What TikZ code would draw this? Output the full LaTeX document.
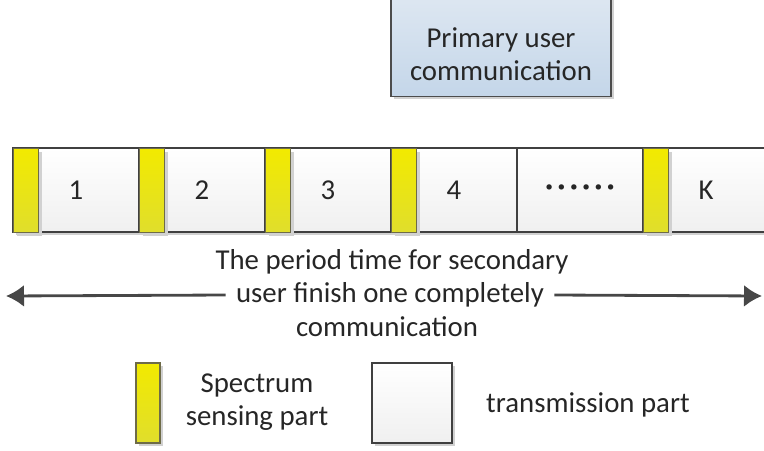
\documentclass[tikz,border=0pt]{standalone}
\usepackage{fontspec}
\setmainfont{Carlito}
\usetikzlibrary{arrows.meta,shadows}
\definecolor{senseTop}{HTML}{F2EA00}
\definecolor{senseBot}{HTML}{E0DE2C}
\definecolor{puTop}{HTML}{DFE8F2}
\definecolor{puBot}{HTML}{C4D6E9}
\definecolor{ink}{HTML}{262626}
\begin{document}
\begin{tikzpicture}[x=0.02cm,y=-0.02cm]
\tikzstyle{every node}+=[inner sep=0pt,text=ink,font=\fontsize{16.4}{18.7}\selectfont]
\tikzstyle{shade}=[drop shadow={shadow xshift=0.06cm,shadow yshift=-0.06cm,fill=black!18,opacity=1}]
\tikzstyle{cell}=[draw=black!75,line width=0.6pt,top color=white,bottom color=black!6,minimum width=2.52cm,minimum height=1.68cm,shade]
\tikzstyle{sense}=[draw=yellow!35!black,line width=0.6pt,top color=senseTop,bottom color=senseBot,minimum width=0.5cm,minimum height=1.68cm,shade]
\tikzstyle{arrow}=[-{Latex[length=0.36cm,width=0.44cm]},line width=1.6pt,draw=black!72]
\useasboundingbox (0,0) rectangle (764,450);
% primary user
\node[draw=black!70,line width=0.6pt,top color=puTop,bottom color=puBot,minimum width=4.4cm,minimum height=2.14cm,shade] (pu) at (501,43) {};
\node[align=center] (put) at (501,54) {Primary user\\communication};
% frame row
\node[cell] (c1) at (76,190) {1};
\node[cell] (c2) at (202,190) {2};
\node[cell] (c3) at (328,190) {3};
\node[cell] (c4) at (454,190) {4};
\node[cell] (c5) at (580,190) {\textbf{·\kern2.6pt·\kern2.6pt·\kern2.6pt·\kern2.6pt·\kern2.6pt·}};
\node[cell] (c6) at (706,190) {K};
\foreach \x [count=\i] in {13,139,265,391,643}
  \node[sense,anchor=north west] (s\i) at (\x,148) {};
% period
\node (t1) at (392,262) {The period time for secondary};
\node[inner xsep=0.2cm] (mid) at (390,295) {user finish one completely};
\node (t3) at (387,327) {communication};
\coordinate (la) at (6,296);
\coordinate (ra) at (762,296);
\draw[arrow] (mid.west) -- (la);
\draw[arrow] (mid.east) -- (ra);
% legend
\node[sense,minimum width=0.48cm,minimum height=1.6cm] (ls) at (148,403) {};
\node[align=center] (lst) at (257,402) {Spectrum\\sensing part};
\node[cell,minimum width=1.6cm,minimum height=1.6cm] (lt) at (412,403) {};
\node (ltt) at (588,405) {transmission part};
\end{tikzpicture}
\end{document}
